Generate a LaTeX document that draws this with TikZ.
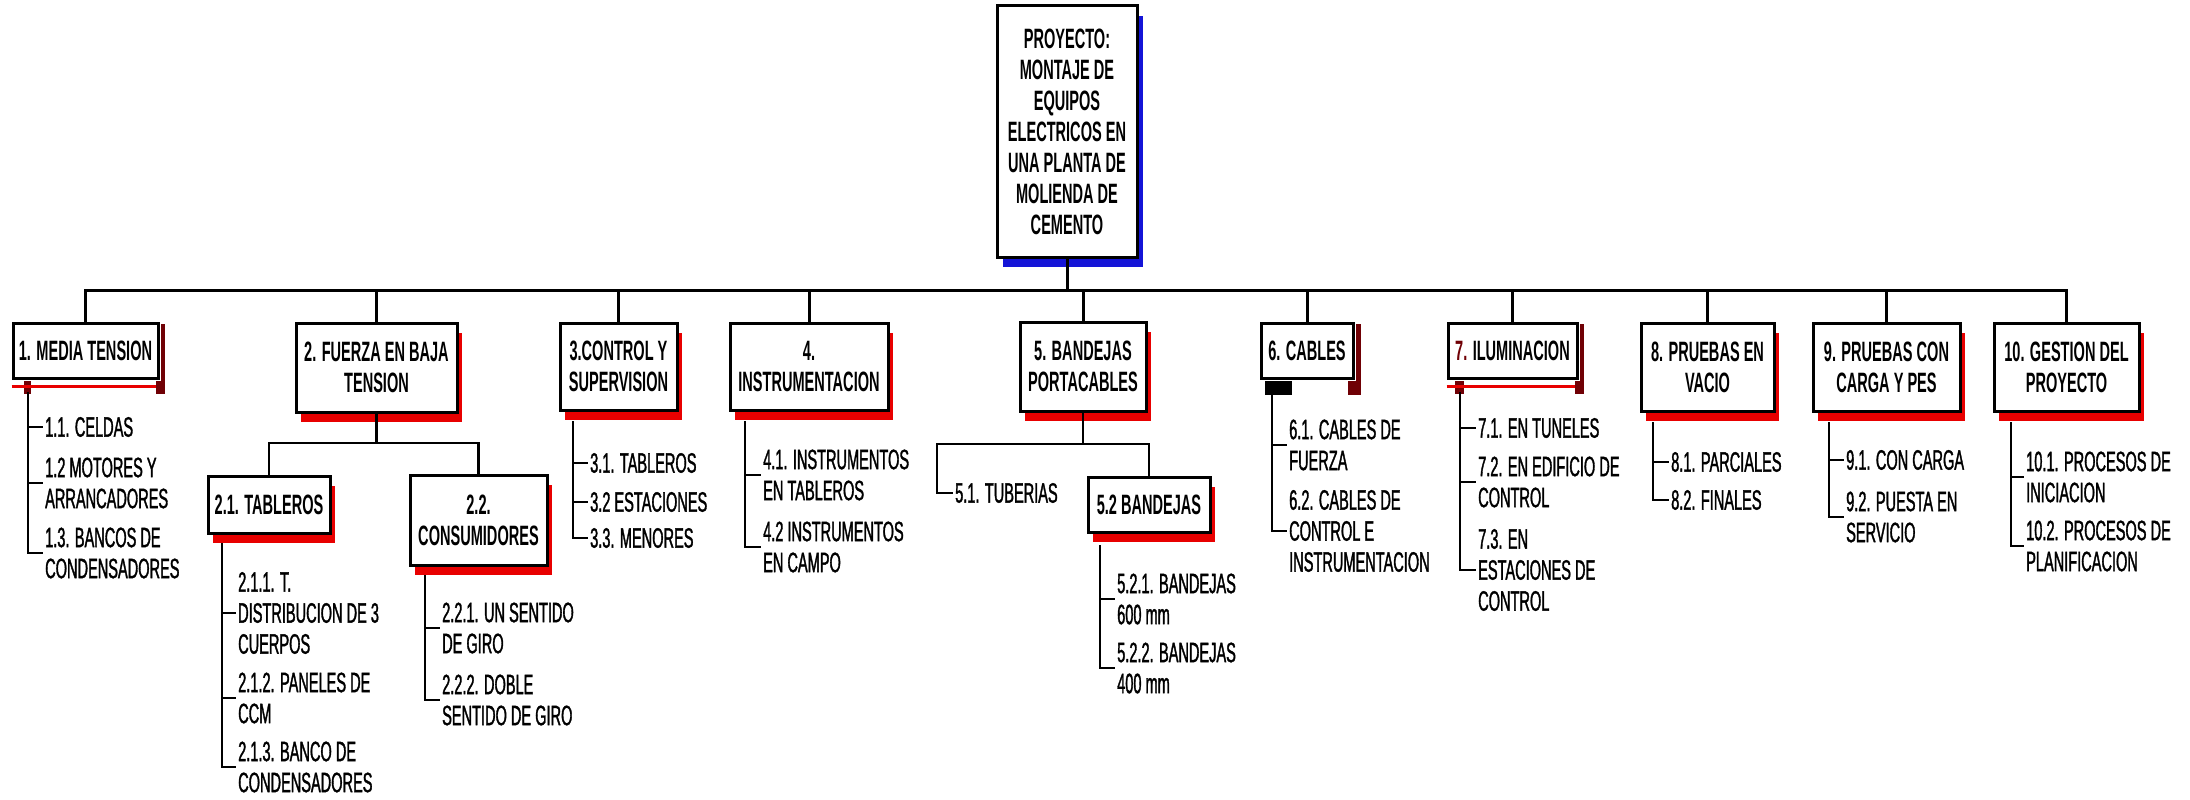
\documentclass[tikz,border=0pt]{standalone}
\usepackage{fontspec}
\setmainfont{Liberation Sans}[FakeStretch=0.52]
\usepackage{tikz}
\usetikzlibrary{shadows}
\definecolor{shred}{RGB}{232,0,0}
\definecolor{shdark}{RGB}{112,0,5}
\definecolor{shblue}{RGB}{20,20,215}

\begin{document}
\begin{tikzpicture}[
  x=1pt, y=-1pt,
  every node/.style={font=\fontsize{28}{31}\selectfont\addfontfeatures{FakeBold=1.2}},
  wbs/.style={draw,line width=3pt,fill=white,align=center,inner sep=0pt,font=\fontsize{28}{31}\selectfont\bfseries},
  redshade/.style={drop shadow={shadow xshift=5pt,shadow yshift=-10pt,fill=shred,opacity=1}},
  blueshade/.style={drop shadow={shadow xshift=6pt,shadow yshift=-10pt,fill=shblue,opacity=1}},
  leaf/.style={anchor=west,align=left,inner xsep=2pt,inner ysep=0pt},
  link/.style={line width=2.5pt}
]
  \useasboundingbox (0,0) rectangle (2190,800);

  \node[wbs,blueshade,minimum width=140pt,minimum height=251pt] (root) at (1067,131.5)
    {PROYECTO:\\MONTAJE DE\\EQUIPOS\\ELECTRICOS EN\\UNA PLANTA DE\\MOLIENDA DE\\CEMENTO};

  \node[wbs,minimum width=145pt,minimum height=55pt] (b1) at (85.5,350.5) {1. MEDIA TENSION};
  \node[wbs,redshade,minimum width=161pt,minimum height=89pt] (b2) at (376.5,367.5) {2. FUERZA EN BAJA\\TENSION};
  \node[wbs,redshade,minimum width=117pt,minimum height=87pt] (b3) at (618.5,366.5) {3.CONTROL Y\\SUPERVISION};
  \node[wbs,redshade,minimum width=158pt,minimum height=87pt] (b4) at (809,366.5) {4.\\INSTRUMENTACION};
  \node[wbs,redshade,minimum width=126pt,minimum height=89pt] (b5) at (1083,366.5) {5. BANDEJAS\\PORTACABLES};
  \node[wbs,minimum width=92pt,minimum height=55pt] (b6) at (1307,350.5) {6. CABLES};
  \node[wbs,minimum width=129pt,minimum height=55pt] (b7) at (1512.5,350.5) {{\color{shdark}7.} ILUMINACION};
  \node[wbs,redshade,minimum width=133pt,minimum height=88pt] (b8) at (1707.5,367) {8. PRUEBAS EN\\VACIO};
  \node[wbs,redshade,minimum width=147pt,minimum height=88pt] (b9) at (1886.5,367) {9. PRUEBAS CON\\CARGA Y PES};
  \node[wbs,redshade,minimum width=145pt,minimum height=88pt] (b10) at (2066.5,367) {10. GESTION DEL\\PROYECTO};

  \node[wbs,redshade,minimum width=122pt,minimum height=57pt] (b21) at (269,504.5) {2.1. TABLEROS};
  \node[wbs,redshade,minimum width=137pt,minimum height=90pt] (b22) at (478.5,520) {2.2.\\CONSUMIDORES};
  \node[wbs,redshade,minimum width=122pt,minimum height=55pt] (b52) at (1149,504.5) {5.2 BANDEJAS};

  \fill[shdark] ([xshift=1.5pt,yshift=-2pt]b1.north east) rectangle ([xshift=5pt,yshift=-14pt]b1.south east);
  \fill[shdark] ([xshift=-4pt,yshift=-1.5pt]b1.south east) rectangle ([xshift=5pt,yshift=-14pt]b1.south east);
  \fill[shdark] ([xshift=12pt,yshift=-1.5pt]b1.south west) rectangle ([xshift=19pt,yshift=-14pt]b1.south west);
  \draw[shred,line width=3pt] ([yshift=-7pt]b1.south west) -- ([xshift=-4pt,yshift=-7pt]b1.south east);

  \fill[shdark] ([xshift=1.5pt,yshift=-2pt]b7.north east) rectangle ([xshift=5pt,yshift=-14pt]b7.south east);
  \fill[shdark] ([xshift=-4pt,yshift=-1.5pt]b7.south east) rectangle ([xshift=5pt,yshift=-14pt]b7.south east);
  \fill[shdark] ([xshift=8pt,yshift=-1.5pt]b7.south west) rectangle ([xshift=17pt,yshift=-14pt]b7.south west);
  \draw[shred,line width=3pt] ([yshift=-7pt]b7.south west) -- ([xshift=-4pt,yshift=-7pt]b7.south east);

  \fill[shdark] ([xshift=1.5pt,yshift=-2pt]b6.north east) rectangle ([xshift=6pt,yshift=-15pt]b6.south east);
  \fill[shdark] ([xshift=-7pt,yshift=-1.5pt]b6.south east) rectangle ([xshift=6pt,yshift=-15pt]b6.south east);
  \fill[black] ([xshift=5pt,yshift=-1.5pt]b6.south west) rectangle ([xshift=32pt,yshift=-15pt]b6.south west);

  \coordinate (bus) at (1067,290);
  \draw[link,line width=3pt] (root.south) -- (bus);
  \draw[link,line width=3pt] (b1.north) |- (bus) (b2.north) |- (bus) (b3.north) |- (bus) (b4.north) |- (bus) (b5.north) |- (bus);
  \draw[link,line width=3pt] (b6.north) |- (bus) (b7.north) |- (bus) (b8.north) |- (bus) (b9.north) |- (bus) (b10.north) |- (bus);

  \coordinate (bus2) at (376.5,443);
  \draw[link] (b2.south) -- (bus2) (b21.north) |- (bus2) (b22.north) |- (bus2);

  \node[leaf] (l11) at (43,427) {1.1. CELDAS};
  \node[leaf] (l12) at (43,483) {1.2 MOTORES Y\\ARRANCADORES};
  \node[leaf] (l13) at (43,553) {1.3. BANCOS DE\\CONDENSADORES};
  \node[leaf] (l211) at (236,613) {2.1.1. T.\\DISTRIBUCION DE 3\\CUERPOS};
  \node[leaf] (l212) at (236,698) {2.1.2. PANELES DE\\CCM};
  \node[leaf] (l213) at (236,767) {2.1.3. BANCO DE\\CONDENSADORES};
  \node[leaf] (l221) at (440,628) {2.2.1. UN SENTIDO\\DE GIRO};
  \node[leaf] (l222) at (440,700) {2.2.2. DOBLE\\SENTIDO DE GIRO};
  \node[leaf] (l31) at (588,463) {3.1. TABLEROS};
  \node[leaf] (l32) at (588,502) {3.2 ESTACIONES};
  \node[leaf] (l33) at (588,538) {3.3. MENORES};
  \node[leaf] (l41) at (761,475) {4.1. INSTRUMENTOS\\EN TABLEROS};
  \node[leaf] (l42) at (761,547) {4.2 INSTRUMENTOS\\EN CAMPO};
  \node[leaf] (l51) at (953,493) {5.1. TUBERIAS};
  \node[leaf] (l521) at (1115,599) {5.2.1. BANDEJAS\\600 mm};
  \node[leaf] (l522) at (1115,668) {5.2.2. BANDEJAS\\400 mm};
  \node[leaf] (l61) at (1287,445) {6.1. CABLES DE\\FUERZA};
  \node[leaf] (l62) at (1287,531) {6.2. CABLES DE\\CONTROL E\\INSTRUMENTACION};
  \node[leaf] (l71) at (1476,428) {7.1. EN TUNELES};
  \node[leaf] (l72) at (1476,482) {7.2. EN EDIFICIO DE\\CONTROL};
  \node[leaf] (l73) at (1476,570) {7.3. EN\\ESTACIONES DE\\CONTROL};
  \node[leaf] (l81) at (1669,462) {8.1. PARCIALES};
  \node[leaf] (l82) at (1669,500) {8.2. FINALES};
  \node[leaf] (l91) at (1844,460) {9.1. CON CARGA};
  \node[leaf] (l92) at (1844,517) {9.2. PUESTA EN\\SERVICIO};
  \node[leaf] (l101) at (2024,477) {10.1. PROCESOS DE\\INICIACION};
  \node[leaf] (l102) at (2024,546) {10.2. PROCESOS DE\\PLANIFICACION};

  \coordinate (bus5) at (1083,444);
  \coordinate (bend5) at (937,444);
  \draw[link] (b5.south) -- (bus5) (b52.north) |- (bus5) (bus5) -- (bend5) |- (l51.west);

  \coordinate (t1) at (28,392);
  \coordinate (t21) at (222,543);
  \coordinate (t22) at (425,575);
  \coordinate (t3) at (573,421);
  \coordinate (t4) at (745,421);
  \coordinate (t52) at (1100,545);
  \coordinate (t6) at (1272,393);
  \coordinate (t7) at (1460,392);
  \coordinate (t8) at (1653,422);
  \coordinate (t9) at (1829,422);
  \coordinate (t10) at (2011,422);

  \draw[link] (t1) |- (l11.west) (t1) |- (l12.west) (t1) |- (l13.west);
  \draw[link] (t21) |- (l211.west) (t21) |- (l212.west) (t21) |- (l213.west);
  \draw[link] (t22) |- (l221.west) (t22) |- (l222.west);
  \draw[link] (t3) |- (l31.west) (t3) |- (l32.west) (t3) |- (l33.west);
  \draw[link] (t4) |- (l41.west) (t4) |- (l42.west);
  \draw[link] (t52) |- (l521.west) (t52) |- (l522.west);
  \draw[link] (t6) |- (l61.west) (t6) |- (l62.west);
  \draw[link] (t7) |- (l71.west) (t7) |- (l72.west) (t7) |- (l73.west);
  \draw[link] (t8) |- (l81.west) (t8) |- (l82.west);
  \draw[link] (t9) |- (l91.west) (t9) |- (l92.west);
  \draw[link] (t10) |- (l101.west) (t10) |- (l102.west);
\end{tikzpicture}
\end{document}
